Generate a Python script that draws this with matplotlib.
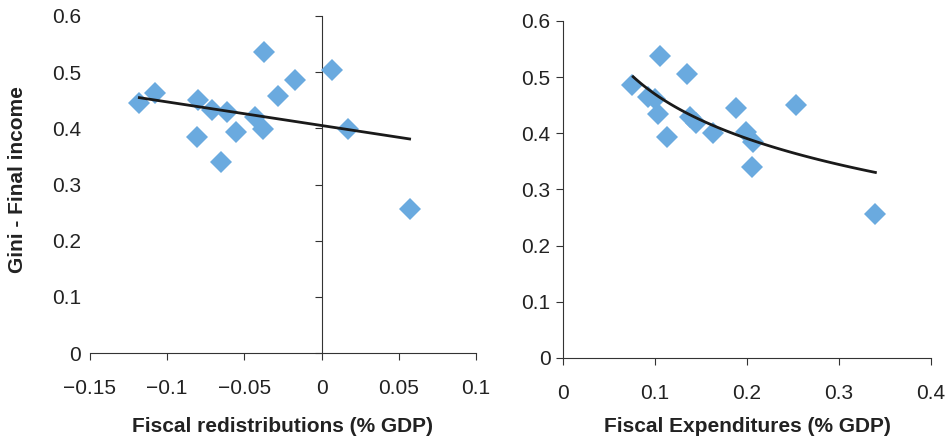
import numpy as np
import matplotlib
matplotlib.use("Agg")
import matplotlib.pyplot as plt

plt.rcParams['font.family'] = ['Liberation Sans', 'DejaVu Sans']

# left panel: fiscal redistributions vs gini
redist = [-0.118, -0.108, -0.080, -0.081, -0.071, -0.0615, -0.065, -0.0555,
          -0.043, -0.038, -0.0375, -0.0285, -0.0175, 0.007, 0.017, 0.057]
gini_l = [0.445, 0.463, 0.450, 0.384, 0.432, 0.429, 0.340, 0.393,
          0.420, 0.399, 0.536, 0.457, 0.486, 0.504, 0.399, 0.256]
# linear trend
lin_slope, lin_icpt = -0.42, 0.405

# right panel: fiscal expenditures vs gini
expend = [0.0755, 0.105, 0.135, 0.092, 0.1005, 0.103, 0.1135, 0.138,
          0.145, 0.163, 0.188, 0.199, 0.2065, 0.205, 0.2535, 0.3395]
gini_r = [0.486, 0.537, 0.505, 0.465, 0.461, 0.434, 0.393, 0.429,
          0.418, 0.400, 0.445, 0.402, 0.384, 0.340, 0.451, 0.257]
# log trend y = a + b*ln(x)
log_a, log_b = 0.207, -0.114

yticks = [0, 0.1, 0.2, 0.3, 0.4, 0.5, 0.6]
xticks_l = [-0.15, -0.1, -0.05, 0, 0.05, 0.1]
xlabels_l = ['\u22120.15', '\u22120.1', '\u22120.05', '0', '0.05', '0.1']
xticks_r = [0, 0.1, 0.2, 0.3, 0.4]
xlabels_r = ['0', '0.1', '0.2', '0.3', '0.4']

blue = '#6aaadf'
axcol = '#333333'
txtcol = '#222222'

fig = plt.figure(figsize=(9.52, 4.43), dpi=100)
ax1 = fig.add_axes([0.0945, 0.203, 0.4055, 0.761])
ax2 = fig.add_axes([0.5914, 0.192, 0.3866, 0.761])

# left
ax1.plot(redist, gini_l, 'D', color=blue, ms=11, mew=0, zorder=3)
xl = np.array([min(redist), max(redist)])
ax1.plot(xl, lin_icpt + lin_slope * xl, color='#1a1a1a', lw=2, zorder=4)
ax1.set_xlim(-0.15, 0.1)
ax1.set_ylim(0, 0.6)
ax1.spines['left'].set_position(('data', 0))
ax1.set_xticks(xticks_l)
ax1.set_xticklabels(xlabels_l)
ax1.set_yticks(yticks)
ax1.set_yticklabels([('%g' % v) for v in yticks])
ax1.tick_params(axis='y', length=5, width=0.8, color=axcol, pad=168,
                labelsize=15, labelcolor=txtcol)
ax1.tick_params(axis='x', length=5, width=0.8, color=axcol, pad=14,
                labelsize=15, labelcolor=txtcol)
ax1.set_xlabel('Fiscal redistributions (% GDP)', fontsize=15, fontweight='bold',
               color=txtcol)
ax1.xaxis.set_label_coords(0.5, -0.19)
ax1.set_ylabel('Gini - Final income', fontsize=15, fontweight='bold', color=txtcol)
ax1.yaxis.set_label_coords(-0.163, 0.516)

# right
ax2.plot(expend, gini_r, 'D', color=blue, ms=11, mew=0, zorder=3)
xr = np.linspace(0.0762, 0.3395, 100)
ax2.plot(xr, log_a + log_b * np.log(xr), color='#1a1a1a', lw=2, zorder=4)
ax2.set_xlim(0, 0.4)
ax2.set_ylim(0, 0.6)
ax2.set_xticks(xticks_r)
ax2.set_xticklabels(xlabels_r)
ax2.set_yticks(yticks)
ax2.set_yticklabels([('%g' % v) for v in yticks])
ax2.tick_params(axis='y', length=5, width=0.8, color=axcol, pad=4,
                labelsize=15, labelcolor=txtcol)
ax2.tick_params(axis='x', length=5, width=0.8, color=axcol, pad=14,
                labelsize=15, labelcolor=txtcol)
ax2.set_xlabel('Fiscal Expenditures (% GDP)', fontsize=15, fontweight='bold',
               color=txtcol)
ax2.xaxis.set_label_coords(0.5, -0.175)

for ax in (ax1, ax2):
    ax.spines['top'].set_visible(False)
    ax.spines['right'].set_visible(False)
    ax.spines['left'].set_color(axcol)
    ax.spines['bottom'].set_color(axcol)
    ax.spines['left'].set_linewidth(0.8)
    ax.spines['bottom'].set_linewidth(0.8)
    ax.set_facecolor('none')

fig.savefig('out.png', dpi=100)
